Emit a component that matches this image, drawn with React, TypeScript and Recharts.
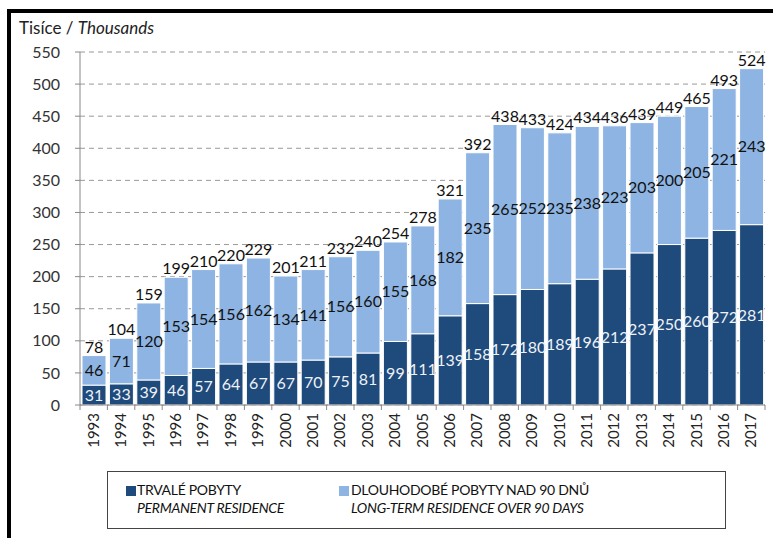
import React from 'react';
import { BarChart, Bar, XAxis, YAxis, CartesianGrid, LabelList } from 'recharts';

const years = ['1993','1994','1995','1996','1997','1998','1999','2000','2001','2002','2003','2004','2005','2006','2007','2008','2009','2010','2011','2012','2013','2014','2015','2016','2017'];
const permanent = [31,33,39,46,57,64,67,67,70,75,81,99,111,139,158,172,180,189,196,212,237,250,260,272,281];
const longTerm = [46,71,120,153,154,156,162,134,141,156,160,155,168,182,235,265,252,235,238,223,203,200,205,221,243];
const totals = [78,104,159,199,210,220,229,201,211,232,240,254,278,321,392,438,433,424,434,436,439,449,465,493,524];
const yTicks = [0,50,100,150,200,250,300,350,400,450,500,550];

const DARK = '#1F4A7C';
const LIGHT = '#8DB4E2';
const FONT = 'Lato, Roboto, "Liberation Sans", sans-serif';

const data = years.map((y, i) => ({ year: y, permanent: permanent[i], longTerm: longTerm[i], total: totals[i] }));

const W = 773;
const H = 538;
const M = { top: 52, right: 8, left: 30, bottom: 93 };
const YW = 50;
const BAND = (W - M.left - YW - M.right) / years.length;

const XTick = (props: any) => {
  const { x, y, payload, index } = props;
  const half = BAND / 2;
  const last = index === years.length - 1;
  return (
    <g>
      <line x1={x - half} x2={x - half} y1={y} y2={y + 5} stroke="#888" strokeWidth={1} />
      {last && <line x1={x + half} x2={x + half} y1={y} y2={y + 5} stroke="#888" strokeWidth={1} />}
      <text
        transform={`translate(${x + 5},${y + 8}) rotate(-90)`}
        textAnchor="end"
        fontSize={15}
        fontFamily={FONT}
        fill="#222"
      >
        {payload.value}
      </text>
    </g>
  );
};

export default function App() {
  return (
    <div style={{ position: 'absolute', left: 0, top: 0, width: W, height: H, background: '#fff', overflow: 'hidden', fontFamily: FONT }}>
      <div style={{ position: 'absolute', left: 7, top: 9, width: 800, height: 600, borderLeft: '4px solid #000', borderTop: '4px solid #000' }} />
      <div style={{ position: 'absolute', left: 19, top: 17, fontSize: 17, color: '#222', whiteSpace: 'nowrap' }}>
        Tisíce / <i>Thousands</i>
      </div>
      <div style={{ position: 'absolute', left: 0, top: 0 }}>
        <BarChart width={W} height={H} data={data} margin={M} barSize={24}>
          <CartesianGrid vertical={false} stroke="#999" strokeDasharray="5 4" />
          <XAxis
            dataKey="year"
            axisLine={{ stroke: '#888' }}
            tickLine={false}
            tickSize={0}
            tickMargin={0}
            interval={0}
            height={40}
            tick={<XTick />}
          />
          <YAxis
            width={YW}
            domain={[0, 550]}
            ticks={yTicks}
            interval={0}
            axisLine={{ stroke: '#888' }}
            tickLine={{ stroke: '#888' }}
            tickSize={5}
            tickMargin={15}
            tick={{ fontSize: 16, fill: '#333', fontFamily: FONT }}
          />
          <Bar dataKey="permanent" stackId="a" fill={DARK} stroke="#fff" strokeWidth={1} isAnimationActive={false}>
            <LabelList dataKey="permanent" position="center" fill="#eef2f7" fontSize={16} fontFamily={FONT} />
          </Bar>
          <Bar dataKey="longTerm" stackId="a" fill={LIGHT} stroke="#fff" strokeWidth={1} isAnimationActive={false}>
            <LabelList dataKey="longTerm" position="center" fill="#111" fontSize={16} fontFamily={FONT} />
            <LabelList dataKey="total" position="top" offset={3} fill="#111" fontSize={16} fontFamily={FONT} />
          </Bar>
        </BarChart>
      </div>
      <div style={{ position: 'absolute', left: 107, top: 471, width: 619, height: 58, border: '1.5px solid #444', boxSizing: 'border-box' }} />
      <div style={{ position: 'absolute', left: 126, top: 486, width: 10, height: 10, background: DARK }} />
      <div style={{ position: 'absolute', left: 137, top: 481, fontSize: 14, letterSpacing: -0.3, color: '#111', lineHeight: '18px', whiteSpace: 'nowrap' }}>
        TRVALÉ POBYTY<br /><i>PERMANENT RESIDENCE</i>
      </div>
      <div style={{ position: 'absolute', left: 339, top: 486, width: 10, height: 10, background: LIGHT }} />
      <div style={{ position: 'absolute', left: 351, top: 481, fontSize: 14, letterSpacing: -0.3, color: '#111', lineHeight: '18px', whiteSpace: 'nowrap' }}>
        DLOUHODOBÉ POBYTY NAD 90 DNŮ<br /><i>LONG-TERM RESIDENCE OVER 90 DAYS</i>
      </div>
    </div>
  );
}
